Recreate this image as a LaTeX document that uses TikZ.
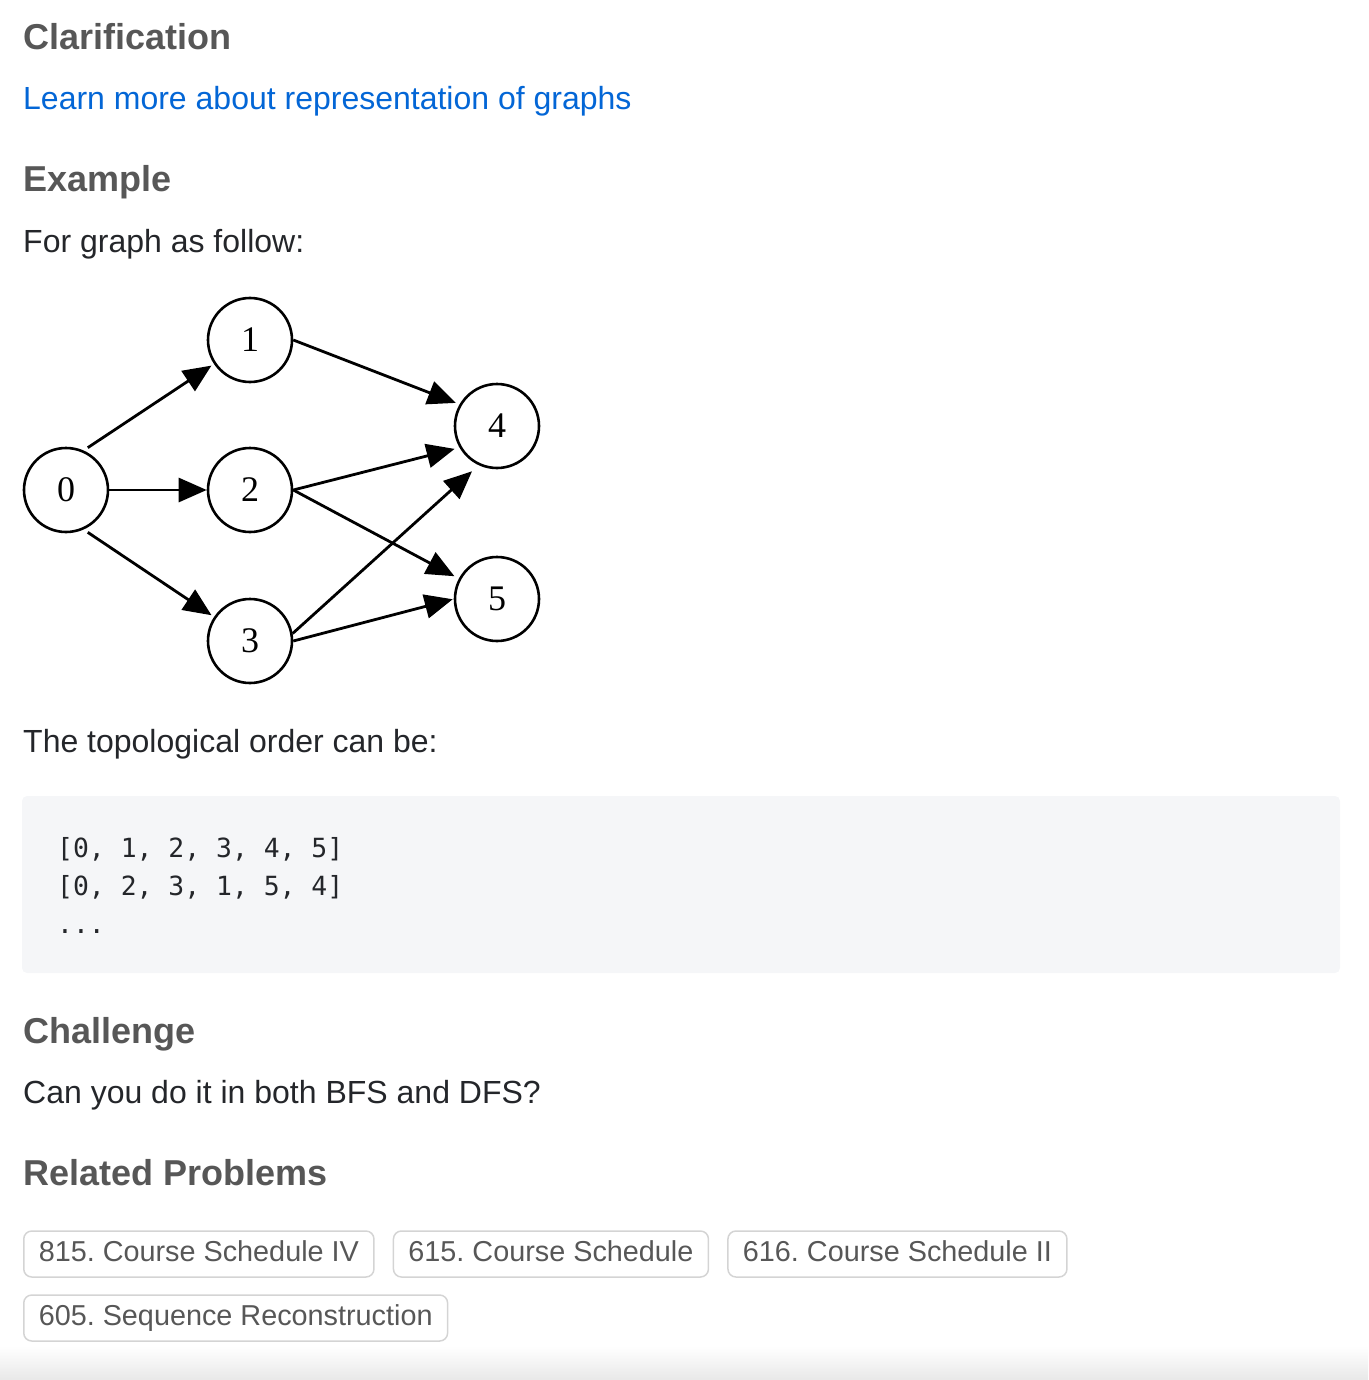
\documentclass[tikz,border=0pt]{standalone}
\usepackage{fontspec}
\setmainfont{Liberation Sans}
\setmonofont{DejaVu Sans Mono}
\newfontfamily\numfont{Liberation Serif}
\usetikzlibrary{arrows.meta, positioning}

\definecolor{headgray}{RGB}{87,87,87}
\definecolor{bodyblack}{RGB}{36,38,42}
\definecolor{linkblue}{RGB}{3,102,214}
\definecolor{codebg}{RGB}{245,246,248}
\definecolor{chipline}{RGB}{212,212,212}

\tikzset{
  heading/.style={anchor=base west, inner sep=0pt, text=headgray,
    font=\fontsize{36}{43}\selectfont\bfseries},
  body/.style={anchor=base west, inner sep=0pt, text=bodyblack,
    font=\fontsize{32}{38}\selectfont},
  code/.style={anchor=base west, inner sep=0pt, text=bodyblack,
    font=\fontsize{26.4}{38}\selectfont\ttfamily},
  vertex/.style={circle, draw, line width=2.6pt, minimum size=84pt,
    inner sep=0pt, font=\fontsize{36}{42}\selectfont\numfont},
  edge/.style={line width=2.8pt, -{Triangle[length=28pt, width=24pt]},
    shorten >=3pt},
  chip/.style={draw=chipline, line width=1.5pt, rounded corners=8pt,
    text=headgray, inner xsep=15pt, minimum height=46pt,
    text height=21pt, text depth=6pt, font=\fontsize{28.8}{35}\selectfont}
}

\begin{document}
\frenchspacing
\begin{tikzpicture}[x=1pt, y=-1pt]
    \useasboundingbox (0, 0) rectangle (1368, 1380);
    % header
    \node [heading] (clarif)  at (23, 50)   {Clarification};
    \node [body, text=linkblue] (learn) at (23, 110) {Learn more about representation of graphs};
    \node [heading] (example) at (23, 192)  {Example};
    \node [body] (forgraph)   at (23, 252)  {For graph as follow:};
    % graph
    \node [vertex] (n0) at (66, 490)  {0};
    \node [vertex] (n1) at (250, 340) {1};
    \node [vertex] (n2) at (250, 490) {2};
    \node [vertex] (n3) at (250, 641) {3};
    \node [vertex] (n4) at (497, 426) {4};
    \node [vertex] (n5) at (497, 599) {5};
    \draw [edge, shorten <=5pt] (n0.66) -- (n1);
    \draw [edge, shorten >=0pt] (n0) -- (n2);
    \draw [edge, shorten <=5pt] (n0.-66) -- (n3);
    \draw [edge, shorten >=4pt] (n1.east) -- (n4.150);
    \draw [edge, shorten >=5pt] (n2.east) -- (n4.210);
    \draw [edge, shorten >=5pt] (n2.east) -- (n5);
    \draw [edge, shorten >=9pt] (n3.10) -- (n4.-115);
    \draw [edge, shorten >=1pt] (n3.east) -- (n5.180);
    % order
    \node [body] (topo) at (23, 752) {The topological order can be:};
    \fill [codebg, rounded corners=5pt] (22, 796) rectangle (1340, 973);
    \node [code] (code1) at (57, 857) {[0, 1, 2, 3, 4, 5]};
    \node [code] (code2) at (57, 895) {[0, 2, 3, 1, 5, 4]};
    \node [code] (code3) at (57, 933) {...};
    % challenge
    \node [heading] (challenge) at (23, 1043) {Challenge};
    \node [body] (bfsdfs)       at (23, 1103) {Can you do it in both BFS and DFS?};
    % related
    \node [heading] (related) at (23, 1185) {Related Problems};
    \node [chip, anchor=west] (c815) at (23, 1254) {815. Course Schedule IV};
    \node [chip, right=18pt of c815] (c615) {615. Course Schedule};
    \node [chip, right=18pt of c615] (c616) {616. Course Schedule II};
    \node [chip, anchor=west] (c605) at (23, 1318) {605. Sequence Reconstruction};
    \shade [top color=white, bottom color=black!9] (0, 1346) rectangle (1368, 1380);
  \end{tikzpicture}
\end{document}
